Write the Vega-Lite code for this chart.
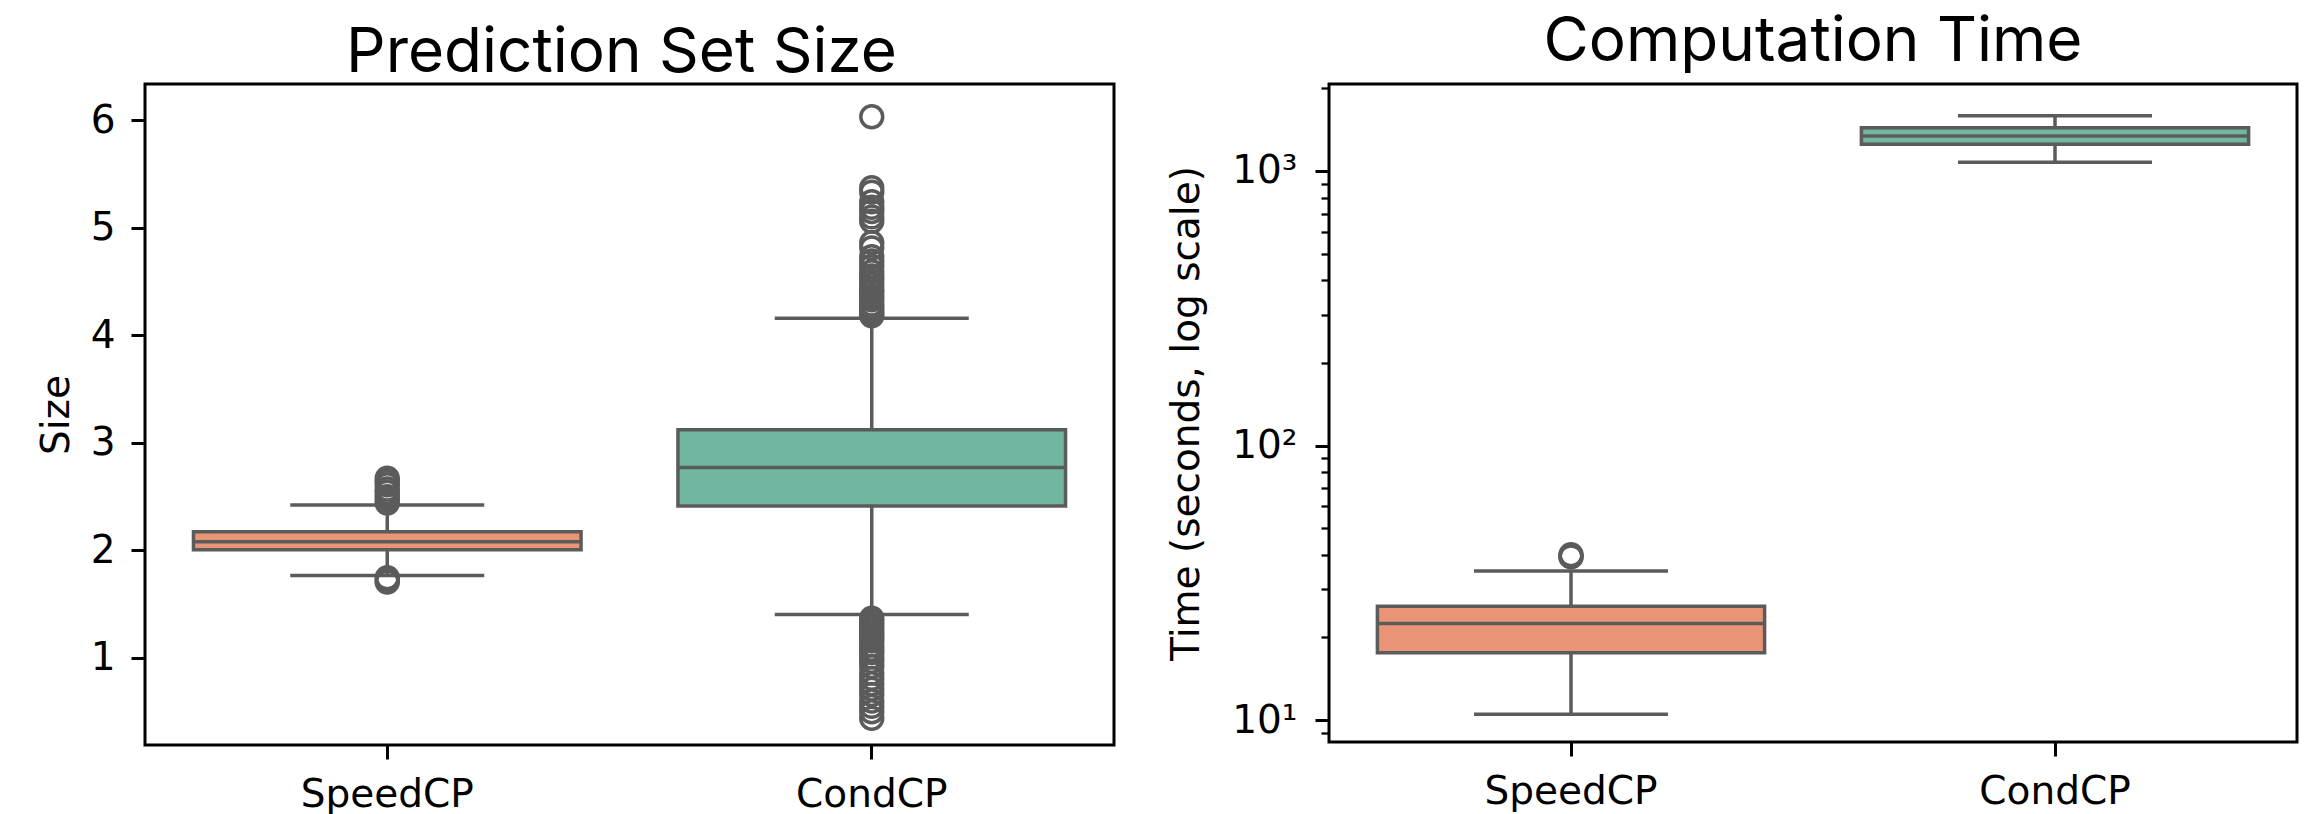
{
  "$schema": "https://vega.github.io/schema/vega-lite/v6.json",
  "background": "white",
  "padding": {"left": 35, "top": 9, "right": 29, "bottom": 4},
  "spacing": 215,
  "bounds": "flush",
  "config": {
    "view": {"stroke": "black", "strokeWidth": 3},
    "axis": {
      "domain": false, "grid": false, "tickColor": "black", "tickWidth": 3, "tickSize": 14,
      "labelFont": "DejaVu Sans", "labelFontSize": 39, "labelColor": "black", "labelPadding": 16,
      "titleFont": "DejaVu Sans", "titleFontSize": 39, "titleFontWeight": "normal", "titleColor": "black"
    },
    "title": {"font": "Inter", "fontSize": 62, "fontWeight": "normal", "color": "black", "anchor": "middle", "frame": "group", "baseline": "alphabetic"}
  },
  "datasets": {
    "size_box": [
      {"method": "SpeedCP", "lo": 1.766, "q1": 2.005, "median": 2.08, "q3": 2.172, "hi": 2.421},
      {"method": "CondCP", "lo": 1.405, "q1": 2.412, "median": 2.77, "q3": 3.121, "hi": 4.158}
    ],
    "size_out": [
      {"method": "SpeedCP", "value": 2.44}, {"method": "SpeedCP", "value": 2.47}, {"method": "SpeedCP", "value": 2.5},
      {"method": "SpeedCP", "value": 2.54}, {"method": "SpeedCP", "value": 2.57}, {"method": "SpeedCP", "value": 2.61},
      {"method": "SpeedCP", "value": 2.64}, {"method": "SpeedCP", "value": 2.67},
      {"method": "SpeedCP", "value": 1.745}, {"method": "SpeedCP", "value": 1.725}, {"method": "SpeedCP", "value": 1.705},
      {"method": "CondCP", "value": 6.03},
      {"method": "CondCP", "value": 5.37}, {"method": "CondCP", "value": 5.33}, {"method": "CondCP", "value": 5.24},
      {"method": "CondCP", "value": 5.19}, {"method": "CondCP", "value": 5.15}, {"method": "CondCP", "value": 5.1},
      {"method": "CondCP", "value": 5.06},
      {"method": "CondCP", "value": 4.86}, {"method": "CondCP", "value": 4.81}, {"method": "CondCP", "value": 4.73},
      {"method": "CondCP", "value": 4.69}, {"method": "CondCP", "value": 4.64}, {"method": "CondCP", "value": 4.59},
      {"method": "CondCP", "value": 4.55}, {"method": "CondCP", "value": 4.51}, {"method": "CondCP", "value": 4.47},
      {"method": "CondCP", "value": 4.43}, {"method": "CondCP", "value": 4.4}, {"method": "CondCP", "value": 4.36},
      {"method": "CondCP", "value": 4.33}, {"method": "CondCP", "value": 4.29}, {"method": "CondCP", "value": 4.26},
      {"method": "CondCP", "value": 4.23}, {"method": "CondCP", "value": 4.2}, {"method": "CondCP", "value": 4.18},
      {"method": "CondCP", "value": 1.37}, {"method": "CondCP", "value": 1.34}, {"method": "CondCP", "value": 1.31},
      {"method": "CondCP", "value": 1.28}, {"method": "CondCP", "value": 1.25}, {"method": "CondCP", "value": 1.22},
      {"method": "CondCP", "value": 1.19}, {"method": "CondCP", "value": 1.16}, {"method": "CondCP", "value": 1.12},
      {"method": "CondCP", "value": 1.08}, {"method": "CondCP", "value": 1.05}, {"method": "CondCP", "value": 1.01},
      {"method": "CondCP", "value": 0.97}, {"method": "CondCP", "value": 0.92}, {"method": "CondCP", "value": 0.86},
      {"method": "CondCP", "value": 0.81}, {"method": "CondCP", "value": 0.76}, {"method": "CondCP", "value": 0.71},
      {"method": "CondCP", "value": 0.66}, {"method": "CondCP", "value": 0.6}, {"method": "CondCP", "value": 0.55},
      {"method": "CondCP", "value": 0.5}, {"method": "CondCP", "value": 0.44}
    ],
    "time_box": [
      {"method": "SpeedCP", "lo": 10.5, "q1": 17.6, "median": 22.5, "q3": 26.0, "hi": 34.9},
      {"method": "CondCP", "lo": 1076, "q1": 1251, "median": 1341, "q3": 1438, "hi": 1590}
    ],
    "time_out": [
      {"method": "SpeedCP", "value": 39.3}, {"method": "SpeedCP", "value": 39.6}, {"method": "SpeedCP", "value": 40.0}
    ]
  },
  "hconcat": [
    {
      "width": 969,
      "height": 661,
      "title": {"text": "Prediction Set Size", "offset": -1, "dx": -8},
      "encoding": {
        "x": {"field": "method", "type": "nominal", "sort": ["SpeedCP", "CondCP"], "scale": {"paddingInner": 0, "paddingOuter": 0}, "axis": {"title": null, "labelAngle": 0}}
      },
      "layer": [
        {
          "data": {"name": "size_box"},
          "mark": {"type": "rule", "color": "#5b5b5b", "strokeWidth": 3.5},
          "encoding": {
            "y": {"field": "lo", "type": "quantitative", "title": "Size", "scale": {"domain": [0.191, 6.335], "nice": false, "zero": false}, "axis": {"values": [1, 2, 3, 4, 5, 6], "format": "d", "titlePadding": 14}},
            "y2": {"field": "hi"}
          }
        },
        {
          "data": {"name": "size_box"},
          "mark": {"type": "tick", "color": "#5b5b5b", "opacity": 1, "size": 194, "thickness": 3.5},
          "encoding": {"y": {"field": "lo", "type": "quantitative", "title": "Size"}}
        },
        {
          "data": {"name": "size_box"},
          "mark": {"type": "tick", "color": "#5b5b5b", "opacity": 1, "size": 194, "thickness": 3.5},
          "encoding": {"y": {"field": "hi", "type": "quantitative", "title": "Size"}}
        },
        {
          "data": {"name": "size_box"},
          "mark": {"type": "bar", "width": {"band": 0.8}, "stroke": "#5b5b5b", "strokeWidth": 3.5, "opacity": 1},
          "encoding": {
            "y": {"field": "q1", "type": "quantitative", "title": "Size"},
            "y2": {"field": "q3"},
            "color": {"field": "method", "type": "nominal", "scale": {"domain": ["SpeedCP", "CondCP"], "range": ["#e99575", "#71b6a1"]}, "legend": null}
          }
        },
        {
          "data": {"name": "size_box"},
          "mark": {"type": "tick", "color": "#5b5b5b", "opacity": 1, "size": 388, "thickness": 3.5},
          "encoding": {"y": {"field": "median", "type": "quantitative", "title": "Size"}}
        },
        {
          "data": {"name": "size_out"},
          "mark": {"type": "point", "shape": "circle", "filled": false, "color": "#5b5b5b", "strokeWidth": 3.5, "size": 480, "opacity": 1},
          "encoding": {"y": {"field": "value", "type": "quantitative", "title": "Size"}}
        }
      ]
    },
    {
      "width": 968,
      "height": 658,
      "title": {"text": "Computation Time", "offset": 10},
      "encoding": {
        "x": {"field": "method", "type": "nominal", "sort": ["SpeedCP", "CondCP"], "scale": {"paddingInner": 0, "paddingOuter": 0}, "axis": {"title": null, "labelAngle": 0}}
      },
      "layer": [
        {
          "data": {"name": "time_box"},
          "mark": {"type": "rule", "color": "#5b5b5b", "strokeWidth": 3.5},
          "encoding": {
            "y": {
              "field": "lo", "type": "quantitative", "title": "Time (seconds, log scale)",
              "scale": {"type": "log", "domain": [8.32, 2074], "nice": false, "zero": false},
              "axis": {
                "values": [9, 10, 20, 30, 40, 50, 60, 70, 80, 90, 100, 200, 300, 400, 500, 600, 700, 800, 900, 1000, 2000],
                "labelExpr": "datum.value == 10 ? '10¹' : datum.value == 100 ? '10²' : datum.value == 1000 ? '10³' : ''",
                "labelFontSize": {"condition": {"test": "datum.value == 10 || datum.value == 100 || datum.value == 1000", "value": 39}, "value": 0},
                "tickSize": {"condition": {"test": "datum.value == 10 || datum.value == 100 || datum.value == 1000", "value": 14}, "value": 8},
                "tickWidth": {"condition": {"test": "datum.value == 10 || datum.value == 100 || datum.value == 1000", "value": 3}, "value": 2.3},
                "labelOverlap": false,
                "labelPadding": 18,
                "titlePadding": 25
              }
            },
            "y2": {"field": "hi"}
          }
        },
        {
          "data": {"name": "time_box"},
          "mark": {"type": "tick", "color": "#5b5b5b", "opacity": 1, "size": 194, "thickness": 3.5},
          "encoding": {"y": {"field": "lo", "type": "quantitative", "title": "Time (seconds, log scale)"}}
        },
        {
          "data": {"name": "time_box"},
          "mark": {"type": "tick", "color": "#5b5b5b", "opacity": 1, "size": 194, "thickness": 3.5},
          "encoding": {"y": {"field": "hi", "type": "quantitative", "title": "Time (seconds, log scale)"}}
        },
        {
          "data": {"name": "time_box"},
          "mark": {"type": "bar", "width": {"band": 0.8}, "stroke": "#5b5b5b", "strokeWidth": 3.5, "opacity": 1},
          "encoding": {
            "y": {"field": "q1", "type": "quantitative", "title": "Time (seconds, log scale)"},
            "y2": {"field": "q3"},
            "color": {"field": "method", "type": "nominal", "scale": {"domain": ["SpeedCP", "CondCP"], "range": ["#e99575", "#71b6a1"]}, "legend": null}
          }
        },
        {
          "data": {"name": "time_box"},
          "mark": {"type": "tick", "color": "#5b5b5b", "opacity": 1, "size": 388, "thickness": 3.5},
          "encoding": {"y": {"field": "median", "type": "quantitative", "title": "Time (seconds, log scale)"}}
        },
        {
          "data": {"name": "time_out"},
          "mark": {"type": "point", "shape": "circle", "filled": false, "color": "#5b5b5b", "strokeWidth": 3.5, "size": 480, "opacity": 1},
          "encoding": {"y": {"field": "value", "type": "quantitative", "title": "Time (seconds, log scale)"}}
        }
      ]
    }
  ],
  "resolve": {"scale": {"y": "independent", "color": "shared"}}
}
